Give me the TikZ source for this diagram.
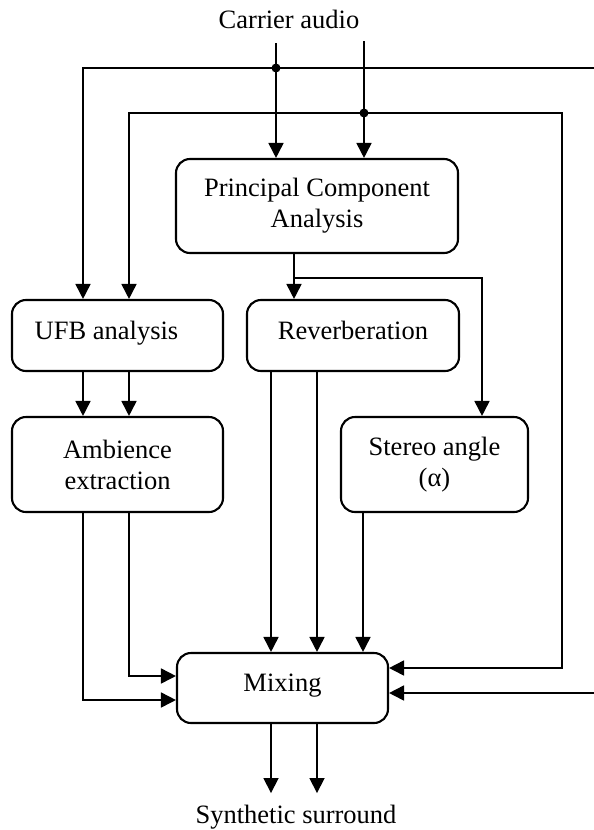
\documentclass[tikz,border=0pt]{standalone}
\usepackage{fontspec}
\setmainfont{Liberation Serif}
\usetikzlibrary{arrows.meta}

\tikzset{
  txt/.style={font=\fontsize{26.5}{31}\selectfont, align=center, inner sep=0pt},
  block/.style={txt, draw, line width=2.1pt, rounded corners=14pt},
  oneline/.style={text height=18pt, text depth=11pt},
  wire/.style={line width=1.7pt},
  arr/.style={wire, -{Triangle[length=15pt,width=15pt]}},
  arrin/.style={wire, {Triangle[length=15pt,width=15pt]}-},
  arrboth/.style={wire, {Triangle[length=15pt,width=15pt]}-{Triangle[length=15pt,width=15pt]}},
  junction/.style={fill, circle, inner sep=0pt, minimum size=9pt}
}

\begin{document}
\begin{tikzpicture}[x=1pt, y=-1pt]
  \fill[white] (0,0) rectangle (594,830);
  \useasboundingbox (0,0) rectangle (594,830);

  % processing blocks
  \node[block, minimum width=282pt, minimum height=94pt] (pca) at (317,206) {Principal Component\\Analysis};
  \node[block, oneline, minimum width=211pt, minimum height=71pt] (ufb) at (117.5,335.5) {UFB analysis\hspace*{22pt}};
  \node[block, oneline, minimum width=212pt, minimum height=71pt] (rev) at (353,335.5) {Reverberation};
  \node[block, minimum width=211pt, minimum height=95pt] (amb) at (117.5,464.5) {Ambience\\extraction};
  \node[block, minimum width=187pt, minimum height=95pt] (ster) at (434.5,464.5) {Stereo angle\\(α)};
  \node[block, oneline, minimum width=211pt, minimum height=70pt] (mix) at (282.5,688) {Mixing};

  % input and output captions
  \node[txt, anchor=base] (carrier) at (289,28) {Carrier audio};
  \node[txt, anchor=base] (synth) at (296,823) {Synthetic surround};

  % carrier channels and their branches
  \coordinate (c1) at (276,43);
  \coordinate (c2) at (364,41);
  \coordinate (topL) at (83,68);
  \coordinate (topR) at (594,68);
  \coordinate (midL) at (129,113);
  \coordinate (midR) at (562,113);
  \coordinate (botR) at (594,693);
  \coordinate (mr1) at ([yshift=20pt]mix.east);
  \coordinate (mr2) at ([yshift=-5pt]mix.east);
  \coordinate (ml1) at ([yshift=12pt]mix.west);
  \coordinate (ml2) at ([yshift=-12pt]mix.west);

  \draw[arr] (c1) -- (c1 |- pca.north);
  \draw[arr] (c2) -- (c2 |- pca.north);
  \draw[arrin] (topL |- ufb.north) -- (topL) -- (topR);
  \draw[arrboth] (midL |- ufb.north) -- (midL) -- (midR) -- (midR |- mr1) -- (mr1);
  \draw[arr] (botR) -- (mr2);
  \node[junction] (j1) at (c1 |- topL) {};
  \node[junction] (j2) at (c2 |- midL) {};

  % PCA outputs
  \coordinate (p1) at ([xshift=-23pt]pca.south);
  \coordinate (split) at ([yshift=-24pt]p1);
  \coordinate (sx) at ([xshift=47.5pt]ster.north);
  \draw[arr] (p1) -- (p1 |- rev.north);
  \draw[arr] (split) -- (split -| sx) -- (sx);

  % UFB analysis to ambience extraction
  \coordinate (u1) at ([xshift=-34.5pt]ufb.south);
  \coordinate (u2) at ([xshift=11.5pt]ufb.south);
  \draw[arr] (u1) -- (u1 |- amb.north);
  \draw[arr] (u2) -- (u2 |- amb.north);

  % ambience to mixing
  \coordinate (a1) at ([xshift=-34.5pt]amb.south);
  \coordinate (a2) at ([xshift=11.5pt]amb.south);
  \draw[arr] (a2) -- (a2 |- ml1) -- (ml1);
  \draw[arr] (a1) -- (a1 |- ml2) -- (ml2);

  % reverberation and stereo angle to mixing
  \coordinate (r1) at ([xshift=-82pt]rev.south);
  \coordinate (r2) at ([xshift=-36pt]rev.south);
  \coordinate (s1) at ([xshift=-71.5pt]ster.south);
  \draw[arr] (r1) -- (r1 |- mix.north);
  \draw[arr] (r2) -- (r2 |- mix.north);
  \draw[arr] (s1) -- (s1 |- mix.north);

  % mixing outputs
  \coordinate (o1) at ([xshift=-11.5pt]mix.south);
  \coordinate (o2) at ([xshift=34.5pt]mix.south);
  \draw[arr] (o1) -- ([yshift=-69pt]o1);
  \draw[arr] (o2) -- ([yshift=-69pt]o2);
\end{tikzpicture}
\end{document}
